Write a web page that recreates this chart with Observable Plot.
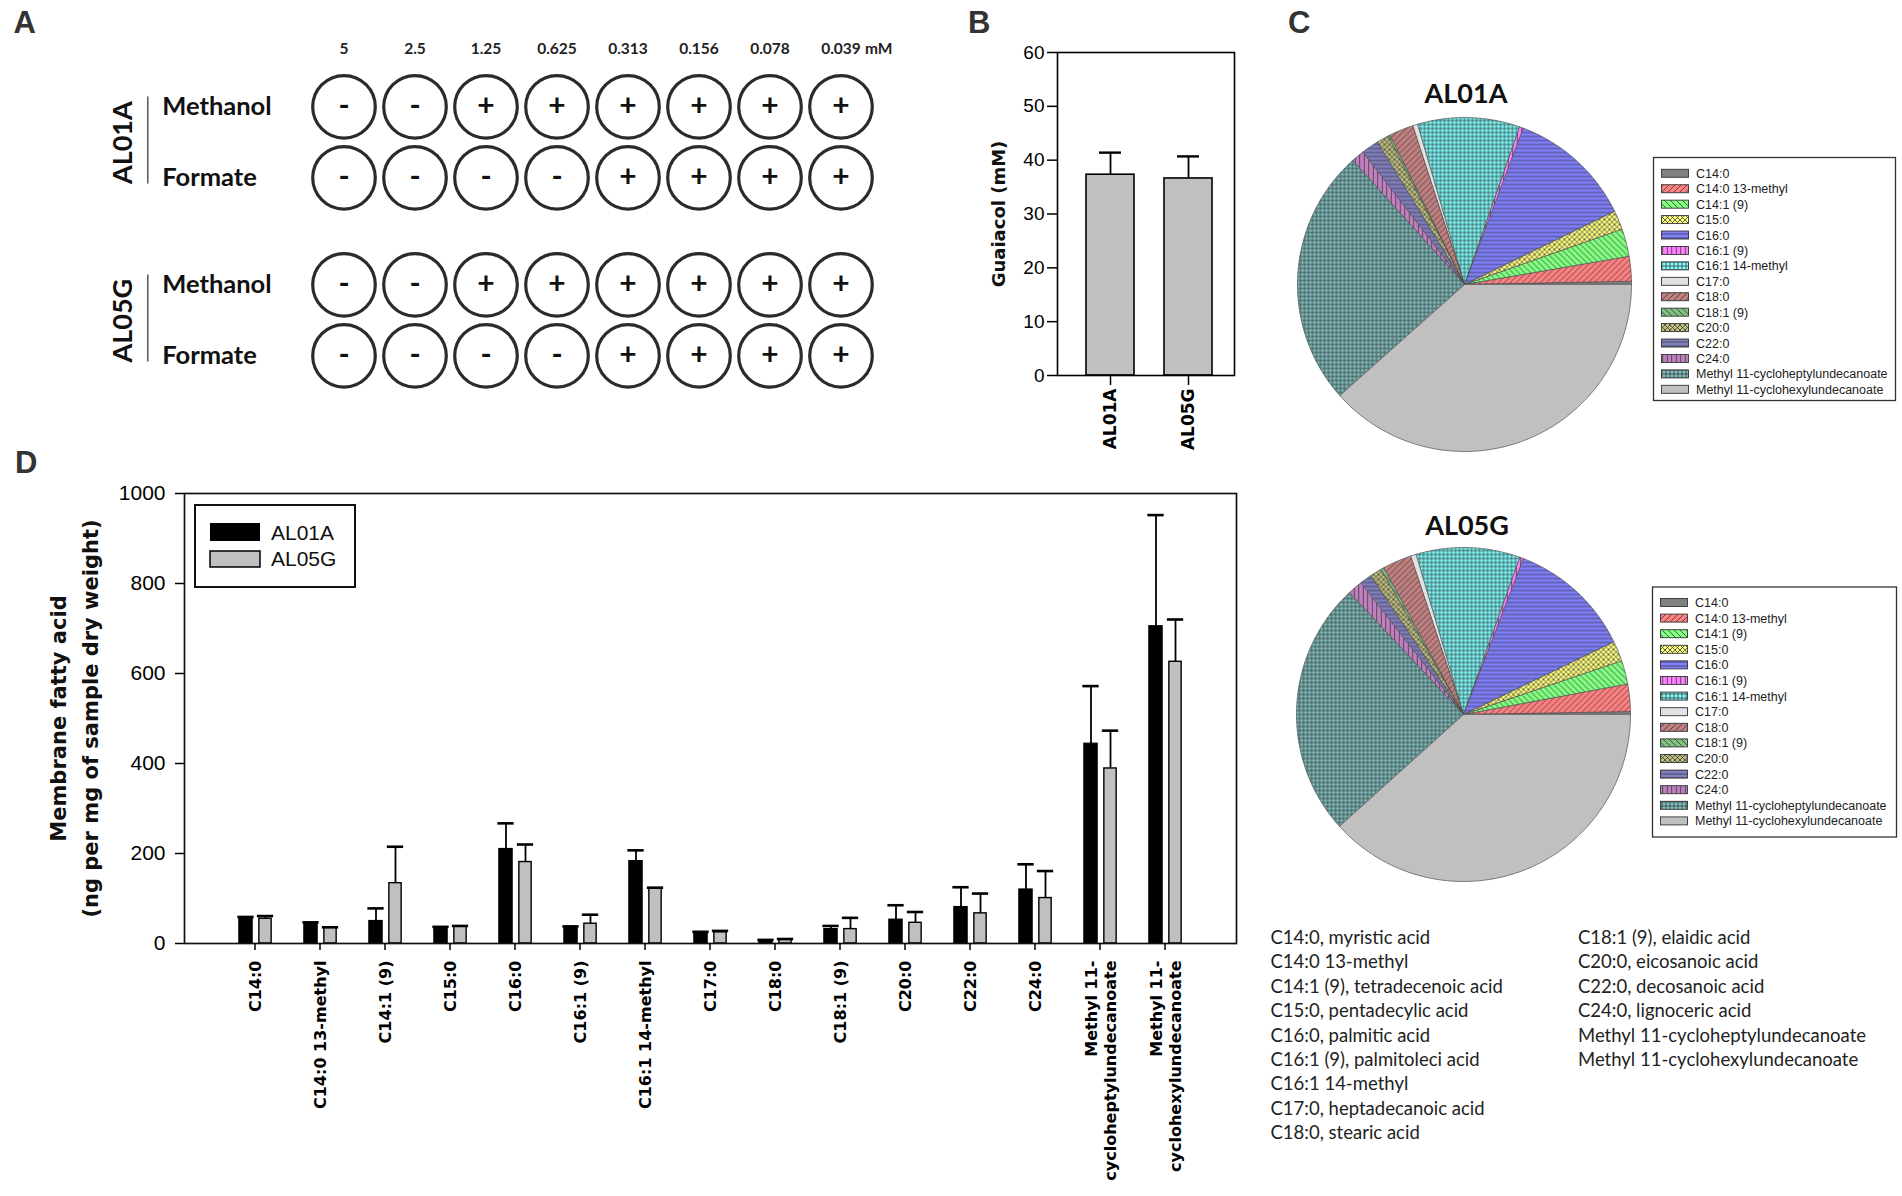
<!DOCTYPE html>
<html>
<head>
<meta charset="utf-8">
<script src="https://cdn.jsdelivr.net/npm/d3@7"></script>
<script src="https://cdn.jsdelivr.net/npm/@observablehq/plot@0.6"></script>
<style>
  html, body { margin: 0; padding: 0; background: #fff; }
  #root { position: relative; width: 1902px; height: 1196px; overflow: hidden; background: #fff; }
</style>
</head>
<body>
<div id="root"></div>
<script>
// ================= DATA =================
// Panel A
const concentrations = ["5", "2.5", "1.25", "0.625", "0.313", "0.156", "0.078", "0.039"];
const concUnit = "mM";
const strains = ["AL01A", "AL05G"];
const media = ["Methanol", "Formate"];
const growthAL01A_Methanol = ["-", "-", "+", "+", "+", "+", "+", "+"];
const growthAL01A_Formate  = ["-", "-", "-", "-", "+", "+", "+", "+"];
const growthAL05G_Methanol = ["-", "-", "+", "+", "+", "+", "+", "+"];
const growthAL05G_Formate  = ["-", "-", "-", "-", "+", "+", "+", "+"];

// Panel B
const guaiacolStrains = ["AL01A", "AL05G"];
const guaiacolMean = [37.3, 36.6];
const guaiacolErr = [4.1, 4.1];
const guaiacolTicks = [0, 10, 20, 30, 40, 50, 60];
const guaiacolTitle = "Guaiacol (mM)";

// Panel C (percent of total)
const pieCategories = ["C14:0", "C14:0 13-methyl", "C14:1 (9)", "C15:0", "C16:0", "C16:1 (9)", "C16:1 14-methyl",
  "C17:0", "C18:0", "C18:1 (9)", "C20:0", "C22:0", "C24:0",
  "Methyl 11-cycloheptylundecanoate", "Methyl 11-cyclohexylundecanoate"];
const pieAL01A = [0.31, 2.39, 2.67, 1.86, 12.06, 0.36, 9.89, 0.47, 2.36, 0.19, 1.19, 1.67, 1.25, 24.92, 38.42];
const pieAL05G = [0.28, 2.64, 2.28, 1.97, 12.00, 0.36, 10.06, 0.53, 2.81, 0.28, 1.17, 1.17, 1.42, 24.72, 38.33];
const pieColors = ["#808080", "#ff8080", "#80ff80", "#ffff80", "#8080ff", "#ff80ff", "#80ffff",
  "#e2e2e2", "#c08080", "#80c080", "#c0c080", "#8080c0", "#c080c0", "#80c0c0", "#c0c0c0"];
const pieHatch = ["solid", "diagUp", "diagDown", "cross", "horiz", "vert", "grid",
  "solid", "diagUp", "diagDown", "cross", "horiz", "vert", "grid", "solid"];

// Panel D
const fattyAcids = ["C14:0", "C14:0 13-methyl", "C14:1 (9)", "C15:0", "C16:0", "C16:1 (9)", "C16:1 14-methyl",
  "C17:0", "C18:0", "C18:1 (9)", "C20:0", "C22:0", "C24:0",
  "Methyl 11-cycloheptylundecanoate", "Methyl 11-cyclohexylundecanoate"];
const fattyTickLabels = ["C14:0", "C14:0 13-methyl", "C14:1 (9)", "C15:0", "C16:0", "C16:1 (9)", "C16:1 14-methyl",
  "C17:0", "C18:0", "C18:1 (9)", "C20:0", "C22:0", "C24:0",
  "Methyl 11-\ncycloheptylundecanoate", "Methyl 11-\ncyclohexylundecanoate"];
const al01aMean = [58, 46, 50, 33, 210, 37, 183, 25, 7, 32, 53, 81, 120, 444, 705];
const al01aErr  = [1, 1, 28, 4, 57, 1, 24, 1, 1, 7, 32, 44, 56, 128, 247];
const al05gMean = [55, 35, 134, 38, 181, 44, 123, 25, 8, 32, 46, 67, 101, 389, 626];
const al05gErr  = [6, 1, 81, 1, 39, 20, 1, 3, 2, 25, 24, 44, 60, 84, 94];
const fattyTicks = [0, 200, 400, 600, 800, 1000];
const fattyTitle = "Membrane fatty acid\n(ng per mg of sample dry weight)";
const seriesNames = ["AL01A", "AL05G"];

// Notes
const notesLeft = ["C14:0, myristic acid", "C14:0 13-methyl", "C14:1 (9), tetradecenoic acid", "C15:0, pentadecylic acid",
  "C16:0, palmitic acid", "C16:1 (9), palmitoleci acid", "C16:1 14-methyl", "C17:0, heptadecanoic acid", "C18:0, stearic acid"];
const notesRight = ["C18:1 (9), elaidic acid", "C20:0, eicosanoic acid", "C22:0, decosanoic acid", "C24:0, lignoceric acid",
  "Methyl 11-cycloheptylundecanoate", "Methyl 11-cyclohexylundecanoate"];

// ================= HELPERS =================
const root = document.getElementById("root");
function place(node, left, top) {
  node.style.position = "absolute";
  node.style.left = left + "px";
  node.style.top = top + "px";
  node.style.maxWidth = "none";
  node.style.overflow = "visible";
  root.appendChild(node);
}
const SANS = "'Liberation Sans', Arial, sans-serif";
const DEJAVU = "'DejaVu Sans', Verdana, sans-serif";
const LATO = "Lato, 'Open Sans', sans-serif";

// Pattern definitions (used by pie slices and pie legends)
const defsSvg = d3.create("svg").attr("width", 0).attr("height", 0)
  .style("position", "absolute").style("left", "0px").style("top", "0px");
const defs = defsSvg.append("defs");
pieCategories.forEach((c, i) => {
  const kind = pieHatch[i];
  const s = {solid: 4, diagUp: 6, diagDown: 6, cross: 5, horiz: 4, vert: 4.5, grid: 4}[kind];
  const pat = defs.append("pattern").attr("id", "pat" + i)
    .attr("patternUnits", "userSpaceOnUse").attr("width", s).attr("height", s);
  pat.append("rect").attr("width", s).attr("height", s).attr("fill", pieColors[i]);
  const up = `M0,${s} L${s},0 M${-s / 4},${s / 4} L${s / 4},${-s / 4} M${s * 3 / 4},${s * 5 / 4} L${s * 5 / 4},${s * 3 / 4}`;
  const down = `M0,0 L${s},${s} M${s * 3 / 4},${-s / 4} L${s * 5 / 4},${s / 4} M${-s / 4},${s * 3 / 4} L${s / 4},${s * 5 / 4}`;
  const paths = {
    solid: null,
    diagUp: up,
    diagDown: down,
    cross: up + " " + down,
    horiz: `M0,${s / 2} H${s}`,
    vert: `M${s / 2},0 V${s}`,
    grid: `M0,${s / 2} H${s} M${s / 2},0 V${s}`
  };
  if (paths[kind]) pat.append("path").attr("d", paths[kind]).attr("fill", "none")
    .attr("stroke", "#333").attr("stroke-width", 0.75);
});
root.appendChild(defsSvg.node());

// ================= PANEL A =================
const growth = {
  AL01A: {Methanol: growthAL01A_Methanol, Formate: growthAL01A_Formate},
  AL05G: {Methanol: growthAL05G_Methanol, Formate: growthAL05G_Formate}
};
const cellsA = [];
strains.forEach(s => media.forEach(m => concentrations.forEach((c, i) =>
  cellsA.push({strain: s, medium: m, conc: c, sign: growth[s][m][i]}))));
const rowsA = [];
strains.forEach(s => media.forEach(m => rowsA.push({strain: s, medium: m})));

const plotA = Plot.plot({
  width: 900, height: 420,
  marginLeft: 305, marginRight: 21, marginTop: 70.15, marginBottom: 28.15,
  x: {type: "band", domain: concentrations, padding: 0, axis: null},
  y: {type: "band", domain: media, padding: 0, axis: null},
  fy: {domain: strains, paddingInner: 0.196, paddingOuter: 0, axis: null},
  style: {fontFamily: LATO, background: "transparent", overflow: "visible"},
  marks: [
    Plot.dot(cellsA, {x: "conc", y: "medium", fy: "strain", r: 31.3, fill: "white", stroke: "#2b2b2b", strokeWidth: 3.2}),
    Plot.text(cellsA, {x: "conc", y: "medium", fy: "strain", text: "sign", fontSize: 30, fontWeight: "bold", fill: "#111"}),
    Plot.text(rowsA, {y: "medium", fy: "strain", text: "medium", frameAnchor: "left", textAnchor: "start",
      dx: -143.3, fontSize: 25.5, fontWeight: "bold", fill: "#111"}),
    Plot.text(strains, {fy: d => d, y: () => media[0], dy: 35.85, text: d => d, frameAnchor: "left", textAnchor: "middle",
      rotate: -90, dx: -181.7, fontSize: 27, fontWeight: "bold", fill: "#111"}),
    Plot.ruleX(strains, {fy: d => d, x: null, dx: -444.7, insetTop: 26.55, insetBottom: 29.55, stroke: "#555", strokeWidth: 1.5}),
    Plot.text(concentrations, {x: d => d, fy: () => strains[0], text: d => d, frameAnchor: "top", dy: -17,
      lineAnchor: "bottom", fontSize: 15.5, fontWeight: "bold", fill: "#222"}),
    Plot.text([concUnit], {x: () => concentrations[concentrations.length - 1], fy: () => strains[0], text: d => d,
      frameAnchor: "top", dy: -17, dx: 24, textAnchor: "start", lineAnchor: "bottom", fontSize: 15.5, fontWeight: "bold", fill: "#222"})
  ]
});
place(plotA, 0, 0);

// ================= PANEL B =================
const rowsB = guaiacolStrains.map((s, i) => ({strain: s, mean: guaiacolMean[i], top: guaiacolMean[i] + guaiacolErr[i]}));
const plotB = Plot.plot({
  width: 300, height: 470,
  marginLeft: 97, marginRight: 26, marginTop: 52, marginBottom: 95,
  x: {domain: guaiacolStrains, range: [110.4, 267.6], paddingInner: 0.389, paddingOuter: 0.1945},
  y: {domain: [0, 60]},
  style: {fontFamily: SANS, background: "transparent", overflow: "visible"},
  marks: [
    Plot.barY(rowsB, {x: "strain", y: "mean", fill: "#c0c0c0", stroke: "#000", strokeWidth: 1.6}),
    Plot.ruleX(rowsB, {x: "strain", y1: "mean", y2: "top", stroke: "#000", strokeWidth: 1.8}),
    Plot.tickY(rowsB, {x: "strain", y: "top", insetLeft: 13, insetRight: 13, stroke: "#000", strokeWidth: 2.4}),
    Plot.frame({stroke: "#000", strokeWidth: 1.6}),
    Plot.axisY({ticks: guaiacolTicks, tickSize: 10, tickPadding: 3, fontSize: 19, label: null, strokeWidth: 1.5,
      tickFormat: d => String(d)}),
    Plot.axisX({tickSize: 10, tickPadding: 3, tickRotate: -90, fontSize: 17, fontWeight: "bold",
      fontFamily: DEJAVU, label: null, strokeWidth: 1.5}),
    Plot.text([guaiacolTitle], {text: d => d, frameAnchor: "left", textAnchor: "middle", rotate: -90, dx: -58,
      fontSize: 18, fontWeight: "bold", fontFamily: DEJAVU, fill: "#111"})
  ]
});
place(plotB, 960, 0);

// ================= PANEL C =================
const squareDomain = {type: "Polygon", coordinates: [[[-1, -1], [1, -1], [1, 1], [-1, 1], [-1, -1]]]};
function pieSlices(values) {
  const total = d3.sum(values);
  const cum = [0, ...d3.cumsum(values)];
  return values.map((v, i) => {
    const a0 = cum[i] / total * 2 * Math.PI, a1 = cum[i + 1] / total * 2 * Math.PI;
    const n = Math.max(2, Math.ceil((a1 - a0) / (Math.PI / 360)));
    const ring = [[0, 0]];
    for (let k = 0; k <= n; k++) {
      const a = a0 + (a1 - a0) * k / n;
      ring.push([Math.cos(a), -Math.sin(a)]);
    }
    ring.push([0, 0]);
    return {type: "Feature", properties: {name: pieCategories[i], idx: i}, geometry: {type: "Polygon", coordinates: [ring]}};
  });
}
function piePlot(values) {
  return Plot.plot({
    width: 340, height: 340, margin: 3,
    projection: {type: "identity", domain: squareDomain},
    color: {type: "identity"},
    style: {background: "transparent", overflow: "visible"},
    marks: [
      Plot.geo(pieSlices(values), {fill: f => `url(#pat${f.properties.idx})`, stroke: "#4a4a4a", strokeWidth: 0.7})
    ]
  });
}
place(piePlot(pieAL01A), 1464 - 170, 284 - 170);
place(piePlot(pieAL05G), 1463 - 170, 714 - 170);

// ================= PANEL D =================
const rowsD01 = fattyAcids.map((acid, i) => ({acid, mean: al01aMean[i], top: al01aMean[i] + al01aErr[i]}));
const rowsD05 = fattyAcids.map((acid, i) => ({acid, mean: al05gMean[i], top: al05gMean[i] + al05gErr[i]}));
const plotD = Plot.plot({
  width: 1260, height: 756,
  marginLeft: 184, marginRight: 24, marginTop: 53, marginBottom: 253,
  x: {domain: fattyAcids, range: [216.45, 1202.15], padding: 0},
  y: {domain: [0, 1000]},
  style: {fontFamily: SANS, background: "transparent", overflow: "visible"},
  marks: [
    Plot.barY(rowsD01, {x: "acid", y: "mean", fill: "#000", stroke: "#000", strokeWidth: 1.2, insetLeft: 16.85, insetRight: 34.85}),
    Plot.barY(rowsD05, {x: "acid", y: "mean", fill: "#c0c0c0", stroke: "#000", strokeWidth: 1.4, insetLeft: 36.85, insetRight: 15.85}),
    Plot.ruleX(rowsD01, {x: "acid", y1: "mean", y2: "top", dx: -9, stroke: "#000", strokeWidth: 1.8}),
    Plot.ruleX(rowsD05, {x: "acid", y1: "mean", y2: "top", dx: 10.5, stroke: "#000", strokeWidth: 1.8}),
    Plot.tickY(rowsD01, {x: "acid", y: "top", insetLeft: 15.35, insetRight: 33.35, stroke: "#000", strokeWidth: 2.6}),
    Plot.tickY(rowsD05, {x: "acid", y: "top", insetLeft: 34.85, insetRight: 13.85, stroke: "#000", strokeWidth: 2.6}),
    Plot.frame({stroke: "#111", strokeWidth: 1.7}),
    Plot.axisY({ticks: fattyTicks, tickSize: 9, tickPadding: 10, fontSize: 21, label: null, strokeWidth: 1.5,
      tickFormat: d => String(d)}),
    Plot.axisX({tickSize: 7, tickPadding: 10, tickRotate: -90, fontSize: 16, fontWeight: "bold", fontFamily: DEJAVU,
      lineHeight: 1.2, label: null, strokeWidth: 1.5,
      tickFormat: d => fattyTickLabels[fattyAcids.indexOf(d)]}),
    Plot.text([fattyTitle], {text: d => d, frameAnchor: "left", textAnchor: "middle", rotate: -90, dx: -113, lineHeight: 1.55,
      fontSize: 21, fontWeight: "bold", fontFamily: DEJAVU, fill: "#111"})
  ]
});
place(plotD, 0, 440);

// ================= OVERLAY: letters, titles, legends, notes =================
const ov = d3.create("svg").attr("width", 1902).attr("height", 1196)
  .style("position", "absolute").style("left", "0px").style("top", "0px").style("pointer-events", "none");

// panel letters
[["A", 13.5, 33], ["B", 968, 33], ["C", 1288, 33], ["D", 15, 473]].forEach(([t, x, y]) =>
  ov.append("text").attr("x", x).attr("y", y).text(t)
    .attr("font-family", SANS).attr("font-weight", "bold").attr("font-size", 31).attr("fill", "#333"));

// pie titles
[["AL01A", 1466, 103], ["AL05G", 1467, 535]].forEach(([t, x, y]) =>
  ov.append("text").attr("x", x).attr("y", y).text(t).attr("text-anchor", "middle")
    .attr("font-family", LATO).attr("font-weight", "bold").attr("font-size", 27).attr("fill", "#111"));

// pie legends
function pieLegend(x, y, w, h, firstCenter, step) {
  ov.append("rect").attr("x", x).attr("y", y).attr("width", w).attr("height", h)
    .attr("fill", "white").attr("stroke", "#333").attr("stroke-width", 1.3);
  pieCategories.forEach((c, i) => {
    const cy = firstCenter + step * i;
    ov.append("rect").attr("x", x + 8).attr("y", cy - 4).attr("width", 27).attr("height", 8)
      .attr("fill", `url(#pat${i})`).attr("stroke", "#333").attr("stroke-width", 0.9);
    ov.append("text").attr("x", x + 42.5).attr("y", cy + 4.5).text(c)
      .attr("font-family", SANS).attr("font-size", 12.5).attr("fill", "#222");
  });
}
pieLegend(1653.5, 157.5, 242, 243, 173.3, 15.43);
pieLegend(1652.5, 587, 244, 250, 602.5, 15.6);

// panel D legend
ov.append("rect").attr("x", 195).attr("y", 505).attr("width", 160).attr("height", 82)
  .attr("fill", "white").attr("stroke", "#111").attr("stroke-width", 2);
ov.append("rect").attr("x", 210).attr("y", 523).attr("width", 50).attr("height", 18).attr("fill", "#000");
ov.append("rect").attr("x", 210).attr("y", 551).attr("width", 50).attr("height", 16)
  .attr("fill", "#c0c0c0").attr("stroke", "#000").attr("stroke-width", 1.5);
[[seriesNames[0], 539.5], [seriesNames[1], 566]].forEach(([t, y]) =>
  ov.append("text").attr("x", 271).attr("y", y).text(t)
    .attr("font-family", SANS).attr("font-size", 21).attr("fill", "#111"));

// notes
notesLeft.forEach((t, i) => ov.append("text").attr("x", 1270.5).attr("y", 944 + 24.4 * i).text(t)
  .attr("font-family", LATO).attr("font-size", 18.5).attr("fill", "#222"));
notesRight.forEach((t, i) => ov.append("text").attr("x", 1578).attr("y", 944 + 24.4 * i).text(t)
  .attr("font-family", LATO).attr("font-size", 18.5).attr("fill", "#222"));

root.appendChild(ov.node());
</script>
</body>
</html>
